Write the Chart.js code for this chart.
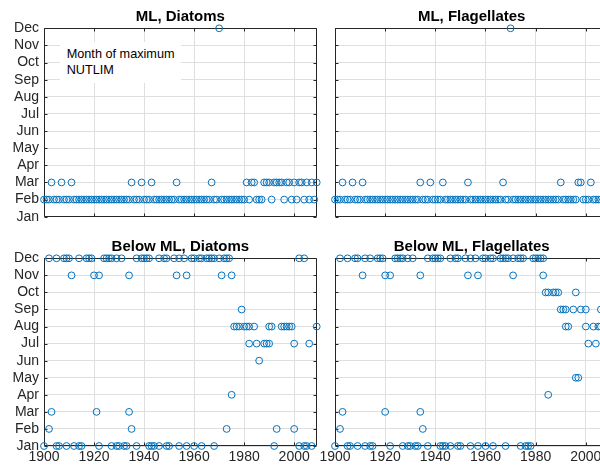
<!DOCTYPE html>
<html><head><meta charset="utf-8">
<script src="https://cdn.jsdelivr.net/npm/chart.js@4"></script>
<style>
html,body{margin:0;padding:0;background:#fff;width:600px;height:467px;overflow:hidden;position:relative;}
canvas{position:absolute;}
#note{position:absolute;left:60px;top:42px;padding:5px 6.7px;font:12.7px "Liberation Sans",Arial,sans-serif;line-height:15.7px;color:#000;background:#fff;white-space:nowrap;}
</style></head><body>
<canvas id="c1" width="330" height="230" style="left:0;top:0"></canvas>
<canvas id="c2" width="300" height="230" style="left:318px;top:0"></canvas>
<canvas id="c3" width="330" height="237" style="left:0;top:230px"></canvas>
<canvas id="c4" width="300" height="237" style="left:318px;top:230px"></canvas>
<div id="note">Month of maximum<br>NUTLIM</div>
<script>
const months = ['Jan','Feb','Mar','Apr','May','Jun','Jul','Aug','Sep','Oct','Nov','Dec'];
const xTicks = [1900,1920,1940,1960,1980,2000];

// ML, Diatoms
const mlDiaFeb = [1900,1901,1902,1904,1905,1906,1908,1909,1910,1912,1913,1914,1915,1916,1917,1918,1919,1920,1921,1922,1923,1924,1925,1926,1927,1928,1929,1930,1931,1932,1933,1934,1936,1937,1938,1940,1941,1942,1944,1945,1946,1947,1948,1949,1950,1951,1952,1954,1955,1956,1957,1958,1959,1960,1961,1962,1963,1964,1965,1966,1968,1969,1971,1972,1973,1974,1975,1976,1977,1978,1979,1980,1982,1985,1986,1987,1991,1996,1999,2001,2004,2006,2008];
const mlDiaMar = [1903,1907,1911,1935,1939,1943,1953,1967,1981,1983,1984,1988,1989,1990,1992,1993,1994,1995,1997,1998,2000,2002,2003,2005,2007,2009];
const mlDiaDec = [1970];

// ML, Flagellates
const mlFlaFeb = [1900,1901,1902,1904,1905,1906,1908,1909,1910,1912,1913,1914,1915,1916,1917,1918,1919,1920,1921,1922,1923,1924,1925,1926,1927,1928,1929,1930,1931,1932,1933,1935,1936,1937,1939,1940,1941,1942,1944,1945,1946,1947,1948,1949,1950,1951,1952,1954,1955,1956,1957,1958,1959,1960,1961,1962,1963,1964,1965,1966,1968,1969,1971,1972,1973,1974,1975,1976,1977,1978,1979,1980,1981,1982,1983,1984,1985,1986,1987,1988,1989,1991,1992,1993,1994,1995,1996,1999,2000,2001,2003,2004,2005,2006,2007,2008,2009];
const mlFlaMar = [1903,1907,1911,1934,1938,1943,1953,1967,1990,1997,1998,2002];
const mlFlaDec = [1970];

// Below ML, Diatoms
const blDiaJan = [1900,1905,1906,1909,1912,1914,1915,1922,1927,1929,1930,1932,1933,1937,1942,1943,1944,1946,1949,1950,1954,1957,1960,1963,1968,1992,2002,2004,2005,2007];
const blDiaFeb = [1902,1935,1973,1993,2000];
const blDiaMar = [1903,1921,1934];
const blDiaApr = [1975];
const blDiaJun = [1986];
const blDiaJul = [1982,1985,1988,1989,1990,2000,2006];
const blDiaAug = [1976,1977,1978,1980,1981,1982,1984,1990,1991,1995,1996,1997,1998,1999,2009];
const blDiaSep = [1979];
const blDiaNov = [1911,1920,1922,1934,1953,1957,1971,1975];
const blDiaDec = [1902,1905,1908,1909,1910,1914,1917,1918,1919,1924,1925,1926,1927,1929,1931,1937,1939,1940,1941,1942,1946,1948,1949,1952,1954,1956,1959,1960,1962,1963,1965,1966,1967,1968,1970,1972,1973,1974,2002,2004];

// Below ML, Flagellates
const blFlaJan = [1900,1905,1906,1909,1912,1914,1915,1922,1927,1929,1930,1932,1933,1937,1942,1943,1944,1946,1949,1950,1954,1957,1960,1963,1968,1974,1976,1977,1978];
const blFlaFeb = [1902,1935];
const blFlaMar = [1903,1920,1934];
const blFlaApr = [1985];
const blFlaMay = [1996,1997];
const blFlaJul = [2001,2004];
const blFlaAug = [1992,1993,2000,2003,2005,2006];
const blFlaSep = [1990,1991,1992,1995,1998,2000,2006];
const blFlaOct = [1984,1985,1987,1988,1989,1996];
const blFlaNov = [1911,1920,1922,1934,1953,1957,1971,1983];
const blFlaDec = [1902,1905,1908,1909,1912,1914,1917,1918,1919,1924,1925,1926,1927,1929,1931,1937,1939,1940,1941,1942,1946,1948,1949,1952,1954,1956,1959,1960,1962,1963,1966,1967,1968,1969,1971,1973,1974,1975,1979,1980,1981,1982,1983];

const FONT = '"Liberation Sans", Arial, Helvetica, sans-serif';
const AX = '#262626';

function pts(groups){
  const out = [];
  groups.forEach(([m, years]) => years.forEach(y => out.push({x: y, y: m})));
  return out;
}

const boxPlugin = {
  id: 'box',
  beforeDatasetsDraw(chart){
    const ctx = chart.ctx, a = chart.chartArea;
    const L = Math.round(a.left)+0.5, R = Math.round(a.right)-0.5, T = Math.round(a.top)+0.5, B = Math.round(a.bottom)-0.5;
    ctx.save();
    ctx.strokeStyle = AX; ctx.lineWidth = 1;
    ctx.beginPath();
    ctx.rect(L, T, R-L, B-T);
    const tl = 3;
    chart.scales.x.ticks.forEach(t => {
      const px = Math.round(chart.scales.x.getPixelForValue(t.value))+0.5;
      ctx.moveTo(px, B); ctx.lineTo(px, B-tl);
      ctx.moveTo(px, T); ctx.lineTo(px, T+tl);
    });
    chart.scales.y.ticks.forEach(t => {
      const py = Math.round(chart.scales.y.getPixelForValue(t.value))+0.5;
      ctx.moveTo(L, py); ctx.lineTo(L+tl, py);
      ctx.moveTo(R, py); ctx.lineTo(R-tl, py);
    });
    ctx.stroke();
    ctx.restore();
  }
};

function makeChart(id, title, groups, o){
  return new Chart(document.getElementById(id), {
    type: 'scatter',
    data: { datasets: [{
      data: pts(groups),
      borderColor: '#0072BD', backgroundColor: 'rgba(0,0,0,0)',
      pointRadius: 3.4, pointHoverRadius: 3.4, pointBorderWidth: 1, borderWidth: 1, clip: false
    }]},
    options: {
      responsive: false, animation: false, events: [],
      layout: { padding: { left: 0, right: o.padRight, top: 0, bottom: 0 } },
      plugins: {
        legend: { display: false }, tooltip: { enabled: false },
        title: { display: true, text: title, fullSize: false, color: '#000',
          font: { family: FONT, size: 15, weight: 'bold', lineHeight: 1.2 },
          padding: { top: 8, bottom: 2.3 } }
      },
      scales: {
        x: {
          type: 'linear', min: 1900, max: 2009,
          afterBuildTicks: s => { s.ticks = xTicks.map(v => ({ value: v })); },
          ticks: { display: o.xLabels, autoSkip: false, maxRotation: 0, padding: 3, color: AX,
            font: { family: FONT, size: 14 }, callback: v => String(v) },
          grid: { color: '#dfdfdf', drawTicks: false, lineWidth: 1 },
          border: { display: false },
          afterFit: s => { s.height = o.xHeight; s.paddingLeft = 0; s.paddingRight = 0; }
        },
        y: {
          type: 'linear', min: 1, max: 12,
          afterBuildTicks: s => { s.ticks = months.map((m, i) => ({ value: i + 1 })); },
          ticks: { display: o.yLabels, autoSkip: false, padding: 5, color: AX,
            font: { family: FONT, size: 14 }, callback: v => months[v - 1] },
          grid: { color: '#dfdfdf', drawTicks: false, lineWidth: 1 },
          border: { display: false },
          afterFit: s => { s.width = o.yWidth; s.paddingTop = 0; s.paddingBottom = 0; }
        }
      }
    },
    plugins: [boxPlugin]
  });
}

makeChart('c1', 'ML, Diatoms', [[2, mlDiaFeb], [3, mlDiaMar], [12, mlDiaDec]],
  { yLabels: true, xLabels: false, yWidth: 44, xHeight: 13.3, padRight: 13.3 });
makeChart('c2', 'ML, Flagellates', [[2, mlFlaFeb], [3, mlFlaMar], [12, mlFlaDec]],
  { yLabels: false, xLabels: false, yWidth: 17, xHeight: 13.3, padRight: 9.6 });
makeChart('c3', 'Below ML, Diatoms', [[1, blDiaJan], [2, blDiaFeb], [3, blDiaMar], [4, blDiaApr], [6, blDiaJun], [7, blDiaJul], [8, blDiaAug], [9, blDiaSep], [11, blDiaNov], [12, blDiaDec]],
  { yLabels: true, xLabels: true, yWidth: 44, xHeight: 21, padRight: 13.3 });
makeChart('c4', 'Below ML, Flagellates', [[1, blFlaJan], [2, blFlaFeb], [3, blFlaMar], [4, blFlaApr], [5, blFlaMay], [7, blFlaJul], [8, blFlaAug], [9, blFlaSep], [10, blFlaOct], [11, blFlaNov], [12, blFlaDec]],
  { yLabels: false, xLabels: true, yWidth: 17, xHeight: 21, padRight: 9.6 });
</script>
</body></html>
